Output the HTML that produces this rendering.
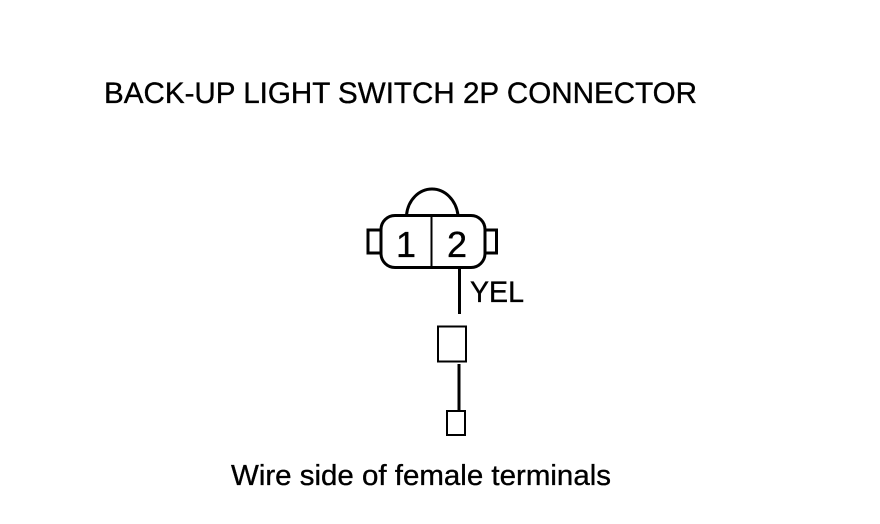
<!DOCTYPE html>
<html>
<head>
<meta charset="utf-8">
<style>
html,body{margin:0;padding:0;background:#fff;width:880px;height:524px;overflow:hidden}
svg{display:block}
text{font-family:"Liberation Sans",sans-serif;fill:#000;stroke:#000;stroke-width:.35px}
</style>
</head>
<body>
<svg width="880" height="524" viewBox="0 0 880 524" xmlns="http://www.w3.org/2000/svg">
<rect width="880" height="524" fill="#fff"/>
<text x="104" y="103" font-size="30" textLength="593" lengthAdjust="spacingAndGlyphs">BACK-UP LIGHT SWITCH 2P CONNECTOR</text>
<g fill="none" stroke="#000">
<path d="M406.500 215 C408 200 419 189 432 189 C445 189 456 200 458 215" stroke-width="3"/>
<rect x="381" y="215.500" width="104" height="52" rx="14" ry="14" stroke-width="3"/>
<path d="M381 230H368V253H381" stroke-width="3"/>
<path d="M485 230H496.500V253H485" stroke-width="3"/>
<path d="M431.500 215V268" stroke-width="2"/>
<path d="M459.500 268V314" stroke-width="3"/>
<rect x="438" y="326.500" width="28" height="35" stroke-width="2"/>
<path d="M459 364V411" stroke-width="3"/>
<rect x="447" y="411" width="18" height="24" stroke-width="2"/>
</g>
<text x="396" y="257" font-size="36">1</text>
<text x="447" y="257" font-size="36">2</text>
<text x="470" y="302" font-size="29.500" textLength="54" lengthAdjust="spacingAndGlyphs">YEL</text>
<text x="231" y="485" font-size="29" textLength="380" lengthAdjust="spacingAndGlyphs">Wire side of female terminals</text>
</svg>
</body>
</html>
